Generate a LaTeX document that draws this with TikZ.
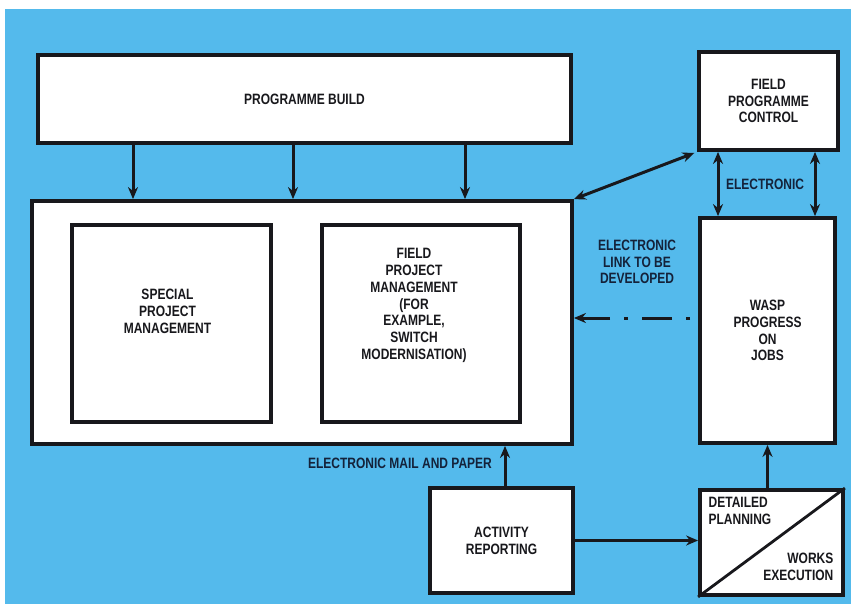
\documentclass[tikz,border=0pt]{standalone}
\usepackage{fontspec}
\setmainfont{Liberation Sans}[FakeStretch=0.8]
\usetikzlibrary{arrows.meta}
\definecolor{plate}{RGB}{84,186,236}
\definecolor{ink}{RGB}{24,24,28}
\definecolor{navy}{RGB}{20,34,58}

\begin{document}
\begin{tikzpicture}[x=1pt,y=-1pt,
  every node/.style={font=\fontsize{15}{16.8}\selectfont\bfseries,align=center,text=ink},
  box/.style={draw=ink,fill=white,line width=3.8pt,inner sep=0pt},
  link/.style={draw=ink,line width=3pt,-{Stealth[length=12pt,width=10pt]}},
  tag/.style={text=navy}]
\useasboundingbox (0,0) rectangle (851,604);
\fill[plate] (5,9) rectangle (851,604);
% boxes
\node[box,minimum width=533pt,minimum height=88pt] (build) at (304.5,99) {PROGRAMME BUILD};
\node[box,minimum width=139pt,minimum height=98pt] (fpc) at (768.5,101) {FIELD\\PROGRAMME\\CONTROL};
\node[box,minimum width=540pt,minimum height=243pt] (big) at (302,322.5) {};
\node[box,minimum width=199pt,minimum height=197pt] (spm) at (171.5,323.5) {};
\node (spmtext) at ([xshift=-4pt,yshift=12pt]spm.center) {SPECIAL\\PROJECT\\MANAGEMENT};
\node[box,minimum width=198pt,minimum height=197pt] (fpm) at (421,323.5) {};
\node (fpmtext) at ([xshift=-7pt,yshift=18pt]fpm.center) {FIELD\\PROJECT\\MANAGEMENT\\(FOR\\EXAMPLE,\\SWITCH\\MODERNISATION)};
\node[box,minimum width=135pt,minimum height=225pt] (wasp) at (767.5,330.5) {WASP\\PROGRESS\\ON\\JOBS};
\node[box,minimum width=143pt,minimum height=105pt] (act) at (501.5,540.5) {ACTIVITY\\REPORTING};
\node[box,minimum width=143pt,minimum height=105pt] (dpwe) at (771.5,542.5) {};
\draw[ink,line width=2.8pt] (dpwe.south west) -- (dpwe.north east);
\node[anchor=north west,align=left] (dp) at ([xshift=7pt,yshift=-6pt]dpwe.north west) {DETAILED\\PLANNING};
\node[anchor=south east,align=right] (we) at ([xshift=-8pt,yshift=13pt]dpwe.south east) {WORKS\\EXECUTION};
% labels
\node[tag] (elec) at (765,184) {ELECTRONIC};
\node[tag] (elink) at (637,262) {ELECTRONIC\\LINK TO BE\\DEVELOPED};
\node[tag] (mail) at (400,463) {ELECTRONIC MAIL AND PAPER};
% connectors
\foreach \dx in {-171.5,-11.5,160.5}
  \draw[link] ([xshift=\dx pt]build.south) -- ([xshift=\dx pt]build.south |- big.north);
\draw[link,{Stealth[length=12pt,width=10pt]}-{Stealth[length=12pt,width=10pt]},shorten >=3pt] (big.north east) -- (fpc.south west);
\foreach \dx in {-50.5,46.5}
  \draw[link,{Stealth[length=12pt,width=10pt]}-{Stealth[length=12pt,width=10pt]}] ([xshift=\dx pt]fpc.south) -- ([xshift=\dx pt]fpc.south |- wasp.north);
\coordinate (dl) at (690,318);
\draw[link,dash pattern=on 4pt off 14pt on 30pt off 14pt] (dl) -- (dl -| big.east);
\draw[link] ([xshift=3.5pt]act.north) -- ([xshift=3.5pt]act.north |- big.south);
\draw[link] (wasp.south |- dpwe.north) -- (wasp.south);
\draw[link] (act.east) -- (act.east -| dpwe.west);
\end{tikzpicture}
\end{document}
